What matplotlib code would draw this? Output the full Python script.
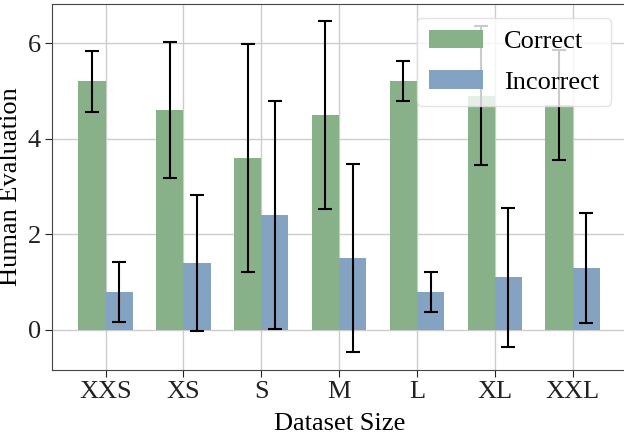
import matplotlib
matplotlib.use('Agg')
import matplotlib.pyplot as plt
import numpy as np

sizes = ['XXS', 'XS', 'S', 'M', 'L', 'XL', 'XXL']
correct = [5.2, 4.6, 3.6, 4.5, 5.2, 4.9, 4.7]
incorrect = [0.8, 1.4, 2.4, 1.5, 0.8, 1.1, 1.3]
spread = [0.63, 1.43, 2.38, 1.97, 0.42, 1.45, 1.15]

plt.rcParams['font.family'] = ['Liberation Serif', 'DejaVu Serif']
plt.rcParams['font.size'] = 19

fig = plt.figure(figsize=(6.24, 4.37), dpi=100)
ax = fig.add_axes([0.083, 0.153, 0.922, 0.838])

x = np.arange(len(sizes))
w = 0.35
err_kw = dict(ecolor='black', elinewidth=1.5, capsize=5, capthick=1.5)
ax.bar(x - w / 2, correct, w, yerr=spread, color='#88b189', label='Correct',
       error_kw=err_kw, zorder=2)
ax.bar(x + w / 2, incorrect, w, yerr=spread, color='#84a3c3', label='Incorrect',
       error_kw=err_kw, zorder=2)

ax.set_xticks(x)
ax.set_xticklabels(sizes)
ax.set_yticks([0, 2, 4, 6])
ax.set_xlim(-0.69, 6.7)
ax.set_ylim(-0.84, 6.82)
ax.grid(True, color='#cccccc', linewidth=1, zorder=0)
ax.set_axisbelow(True)
for s in ax.spines.values():
    s.set_color('#444444')
ax.tick_params(colors='#222222', labelsize=19, length=5, pad=3)

ax.set_xlabel('Dataset Size', fontsize=19, labelpad=7)
ax.set_ylabel('Human Evaluation', fontsize=19, labelpad=4)

leg = ax.legend(loc='upper right', bbox_to_anchor=(0.972, 0.962), borderaxespad=0,
                fontsize=19, handlelength=2.05, handleheight=0.7,
                handletextpad=0.8, framealpha=0.8, edgecolor='#dddddd',
                borderpad=0.45, labelspacing=0.65)

fig.savefig('out.png', dpi=100)
